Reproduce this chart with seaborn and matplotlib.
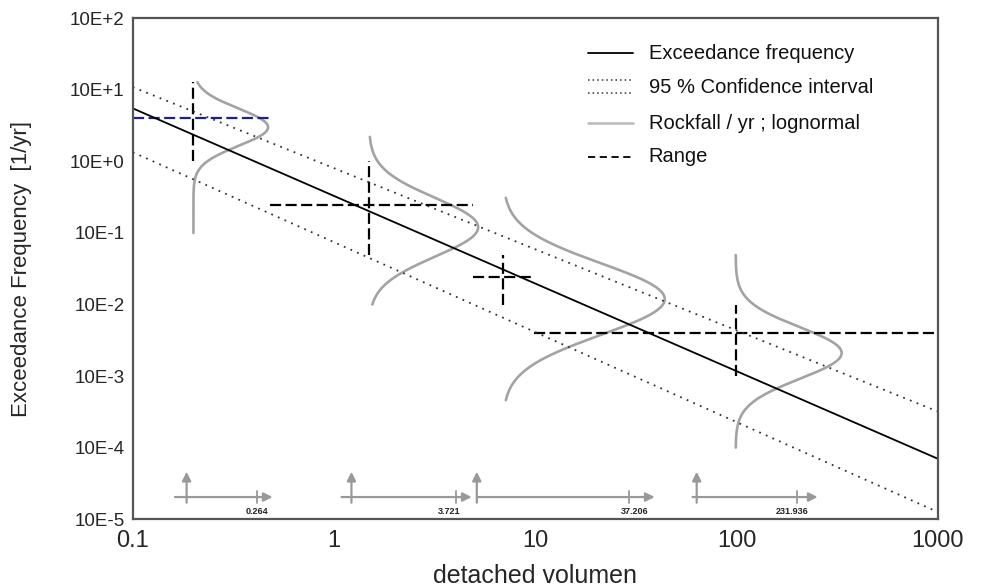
import numpy as np
import pandas as pd
import matplotlib
matplotlib.use('Agg')  # no display
import matplotlib.pyplot as plt
from matplotlib.lines import Line2D
import seaborn as sns

# exceedance frequency and 95 % band (end points at 0.1 and 1000)
line_x = [0.1, 1000]
freq_y = [5.5, 7.0e-5]
ci_upper_y = [10.9, 3.2e-4]
ci_lower_y = [1.34, 1.26e-5]

# lognormal rockfall / yr curves
curve_base_x = [0.2, 1.49, 6.9, 99]
curve_peak_x = [0.47, 5.2, 44, 333]
curve_mode_y = [3.0, 0.12, 0.0119, 2.1e-3]
curve_sigma = [0.26, 0.41, 0.5, 0.36]  # decades
curve_top_y = [12.8, 2.2, 0.31, 0.049]
curve_bottom_y = [0.1, 0.01, 4.6e-4, 1e-4]

# range crosses
range_v_x = [0.2, 1.49, 6.9, 99]
range_v_lo = [1.0, 0.049, 0.01, 1e-3]
range_v_hi = [12.8, 1.0, 0.049, 0.01]
range_h_y = [4.0, 0.245, 0.024, 0.004]
range_h_lo = [0.1, 0.48, 4.9, 9.9]
range_h_hi = [0.48, 4.9, 9.9, 1000]

# small arrows near the x axis
arrow_start_x = [0.162, 1.09, 5.12, 60.5]
arrow_up_x = [0.185, 1.22, 5.12, 63.4]
arrow_head_x = [0.495, 4.83, 39.2, 253]
arrow_tick_x = [0.413, 4.02, 29.1, 199]
arrow_labels = ['0.264', '3.721', '37.206', '231.936']
arrow_label_x = [0.413, 3.72, 31.2, 188]

sns.set_style("white")
plt.rcParams['font.family'] = ['Liberation Sans', 'DejaVu Sans']

fig = plt.figure(figsize=(9.84, 5.88), dpi=100)
ax = fig.add_axes([0.135, 0.117, 0.818, 0.852])
ax.set_xscale('log')
ax.set_yscale('log')

GREY = '#a3a3a3'
DASH = (5, 2)

# lognormal curves, drawn sideways from their base line
rows = []
for i in range(len(curve_base_x)):
    ly = np.linspace(np.log10(curve_bottom_y[i]), np.log10(curve_top_y[i]), 300)
    dens = np.exp(-0.5 * ((ly - np.log10(curve_mode_y[i])) / curve_sigma[i]) ** 2)
    lx = np.log10(curve_base_x[i]) + (np.log10(curve_peak_x[i]) - np.log10(curve_base_x[i])) * dens
    for a, b in zip(lx, ly):
        rows.append({'x': 10 ** a, 'y': 10 ** b, 'curve': i})
curves = pd.DataFrame(rows)
sns.lineplot(data=curves, x='x', y='y', units='curve', estimator=None, sort=False,
             color=GREY, lw=1.9, ax=ax)

# range crosses
for i in range(len(range_v_x)):
    sns.lineplot(x=[range_v_x[i]] * 2, y=[range_v_lo[i], range_v_hi[i]], color='black',
                 lw=1.6, estimator=None, sort=False, ax=ax).lines[-1].set_dashes(DASH)
    hcol = '#1f1f8f' if i == 0 else 'black'
    sns.lineplot(x=[range_h_lo[i], range_h_hi[i]], y=[range_h_y[i]] * 2, color=hcol,
                 lw=1.6, estimator=None, sort=False, ax=ax).lines[-1].set_dashes(DASH)

# frequency line and confidence band
sns.lineplot(x=line_x, y=freq_y, color='black', lw=1.3, ax=ax)
for cy in (ci_upper_y, ci_lower_y):
    sns.lineplot(x=line_x, y=cy, color='#333333', lw=1.3, ax=ax).lines[-1].set_linestyle((0, (1, 3)))

# arrows at the bottom
aprops = dict(arrowstyle='-|>', color='#999999', lw=1.6, mutation_scale=13, shrinkA=0, shrinkB=0)
for i in range(len(arrow_start_x)):
    ax.annotate('', xy=(arrow_head_x[i], 2.04e-5), xytext=(arrow_start_x[i], 2.04e-5), arrowprops=aprops)
    ax.annotate('', xy=(arrow_up_x[i], 4.6e-5), xytext=(arrow_up_x[i], 1.7e-5), arrowprops=aprops)
    ax.plot([arrow_tick_x[i]] * 2, [1.7e-5, 2.45e-5], color='#999999', lw=1.3)
    ax.text(arrow_label_x[i], 1.3e-5, arrow_labels[i], fontsize=6.5, fontweight='bold',
            ha='center', va='center', color='#222222')

ax.set_xlim(0.1, 1000)
ax.set_ylim(1e-5, 1e2)
ax.set_xticks([0.1, 1, 10, 100, 1000])
ax.set_xticklabels(['0.1', '1', '10', '100', '1000'], fontsize=17)
yt = list(range(-5, 3))
ax.set_yticks([10.0 ** k for k in yt])
ax.set_yticklabels(['10E%+d' % k for k in yt], fontsize=13.5)
ax.minorticks_off()
ax.tick_params(direction='in', length=3, color='#444444', width=1)
ax.tick_params(axis='x', pad=8)
ax.tick_params(axis='y', pad=6)
for s in ax.spines.values():
    s.set_color('#555555')
    s.set_linewidth(1.6)

ax.set_xlabel('detached volumen', fontsize=18)
ax.xaxis.set_label_coords(0.5, -0.09)
ax.set_ylabel('Exceedance Frequency  [1/yr]', fontsize=16)
ax.yaxis.set_label_coords(-0.125, 0.5)

# legend drawn by hand (double dotted line for the band)
tr = ax.transAxes
lx0, lx1, tx = 0.565, 0.621, 0.641
legend_rows = [
    ('Exceedance frequency', 0.930, [dict(color='black', lw=1.3)], [0.930]),
    ('95 % Confidence interval', 0.862, [dict(color='#333333', lw=1.1, ls=(0, (1, 2)))] * 2, [0.876, 0.850]),
    ('Rockfall / yr ; lognormal', 0.790, [dict(color='#bdbdbd', lw=1.9)], [0.790]),
    ('Range', 0.723, [dict(color='black', lw=1.3, ls=(0, (4, 2.5)))], [0.723]),
]
for label, ty, styles, ys in legend_rows:
    for st, yy in zip(styles, ys):
        ax.add_line(Line2D([lx0, lx1], [yy, yy], transform=tr, **st))
    ax.text(tx, ty, label, transform=tr, fontsize=14.5, va='center', ha='left', color='#111111')

fig.savefig('out.png', dpi=100)
plt.close(fig)
